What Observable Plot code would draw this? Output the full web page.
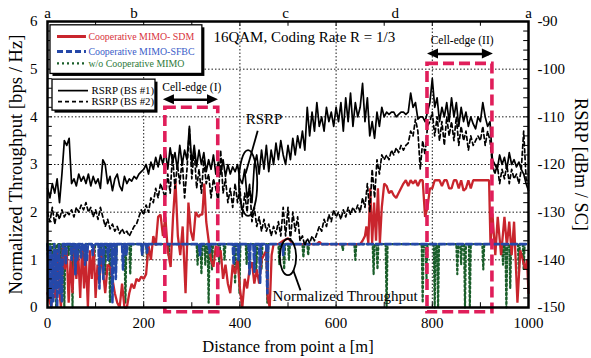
<!DOCTYPE html>
<html><head><meta charset="utf-8">
<script src="https://cdn.jsdelivr.net/npm/d3@7"></script>
<script src="https://cdn.jsdelivr.net/npm/@observablehq/plot@0.6"></script>
<style>body{margin:0;background:#fff}</style>
</head><body><div id="chart"></div>
<script>
// ---- data ----
const rsrpDist = [0,5,10,15,20,25,30,35,40,45,50,55,60,65,70,75,80,85,90,95,100,105,110,115,120,125,130,135,140,145,150,155,160,165,170,175,180,185,190,195,200,
205,210,215,220,225,230,235,240,245,250,255,260,265,270,275,280,285,290,295,300,305,310,315,320,325,330,335,340,345,350,355,360,365,370,375,380,385,390,395,400,
405,410,415,420,425,430,435,440,445,450,455,460,465,470,475,480,485,490,495,500,505,510,515,520,525,530,535,540,545,550,555,560,565,570,575,580,585,590,595,600,
605,610,615,620,625,630,635,640,645,650,655,660,665,670,675,680,685,690,695,700,705,710,715,720,725,730,735,740,745,750,755,760,765,770,775,780,785,790,795,800,
805,810,815,820,825,830,835,840,845,850,855,860,865,870,875,880,885,890,895,900,905,910,915,920,925,930,935,940,945,950,955,960,965,970,975,980,985,990,995,1000];
const rsrpBS1 = [-125,-127,-124,-126,-123,-128,-122,-115,-116,-114.5,-124,-123,-124.5,-122,-123.5,-122.5,-124,-122,-124.5,-122.5,-124,-123,-125,-119,-120,-124,-122.5,-125.5,-123,-122,-124.5,-125.5,-122.5,-124,-123,-123.5,-122.5,-123,-122,-121.5,-121,
-120,-122,-119.5,-121,-118.5,-120.5,-118,-120,-117,-121,-116.5,-119.5,-117.5,-121,-116,-120,-117,-119,-112,-120,-116,-120.5,-117,-120,-117.5,-121.5,-119,-121,-118,-122,-119.5,-122,-119,-122.5,-120,-122,-120.5,-121.5,-120,-123,
-124,-121,-127,-125,-128,-120,-118,-122,-117,-121,-116,-121.5,-117,-120,-115.5,-119,-115,-118,-120,-116,-119,-114.5,-118,-114,-116.5,-113,-117,-108,-114,-109,-113,-107,-112,-110,-113,-108,-111,-109,-112,-108,
-111,-107,-113,-106,-111,-105,-112,-107,-110,-108,-103,-111,-106,-114,-111,-114.5,-109,-112,-108,-110,-109,-109.5,-109,-109,-110,-109.5,-109,-109,-109.5,-109,-105,-108,-107,-110.5,-110,-110,-111,-109,-107,-102,
-108,-106,-111,-108,-110,-107,-111,-106,-110,-107,-112,-108,-111,-109,-112,-110,-111.5,-112.5,-110,-111,-107,-110,-112,-111,-119,-120,-121,-118,-120,-118.5,-121,-117.5,-120,-119,-120.5,-119.5,-121,-122,-124,-125.5];
const rsrpBS2 = [-130,-132,-129,-132.5,-130,-131.5,-129.5,-131,-130,-130.5,-129.5,-131,-129,-130,-128.5,-129.5,-128,-130,-129,-131,-129.5,-131.5,-129,-131,-133,-131.5,-133.5,-132.5,-134,-133,-134.5,-133.5,-134.5,-134,-135,-134,-133,-132.5,-131,-129.5,-130.5,
-128.5,-130,-127,-128,-125,-127,-124,-125.5,-127,-122,-126,-118,-125,-120,-124,-119,-127,-121,-112.5,-123,-117,-125,-121,-126,-119,-124,-122,-127,-123,-125,-128,-117,-126,-123,-128,-125,-129,-124,-128,-125,
-131,-126,-130,-124,-132,-129,-133,-131,-134,-131.5,-134,-132.5,-135,-133,-134.5,-132,-135,-129,-135,-129,-136,-130,-134,-131,-136,-135,-137,-135.5,-136.5,-135,-136,-134.5,-133,-134,-131.5,-133,-130.5,-132,-129.5,-131,
-130,-131.5,-129.5,-131,-129,-130.5,-129,-130,-128.5,-130,-127,-129,-124,-130,-121,-127,-119,-122,-118,-119,-118,-119,-117,-118,-116.5,-117.5,-116,-117,-116,-115.5,-113,-114,-110.5,-113,-121,-115,-118,-112,-111,-109,
-114,-110,-115,-111,-116,-110,-114,-111,-115,-110,-116,-112,-115,-113,-117,-114,-116,-115,-114,-115,-112,-116,-113,-115,-120,-122,-120,-124,-121,-123,-120,-124,-121,-123,-122,-124,-121,-113,-123,-124];
// [distance m, throughput bps/Hz]
const sdm = [[0,0.3],[5,0.1],[8,0],[12,0.9],[16,0.2],[20,1.2],[25,0.3],[28,0],[32,1.3],[36,0.8],[40,1.2],[44,0.1],[48,1.0],[52,0.3],[56,1.25],[60,0.6],[64,1.1],[68,0.2],[72,1.3],[76,0.4],[80,1.0],[84,0],[88,1.2],[92,0.6],[96,1.3],[100,0.2],[104,0.9],[108,0.5],[112,1.2],[116,0.7],[120,0.3],[125,0.9],[130,0.85],[135,0.6],[140,0.3],[145,0.1],[150,0],[155,0.5],[160,0],[165,0],[170,0.3],[175,0.5],[180,0.4],[185,0.6],[190,0.55],[195,0.65],[200,0.6],[205,0.7],[210,1.3],[215,1.0],[220,1.5],[225,1.3],[230,1.9],[235,1.95],[240,1.5],[245,1.9],[250,1.2],[256,0.85],[261,1.9],[266,2.66],[271,1.5],[276,1.1],[281,1.7],[287,0.3],[293,2.2],[298,1.6],[303,1.4],[308,2.0],[314,1.9],[318,1.95],[322,1.95],[326,2.6],[330,1.8],[335,1.4],[340,1.0],[345,0.85],[350,1.3],[355,1.1],[360,1.2],[365,0.6],[370,0.9],[375,0.5],[380,0.3],[385,0.9],[390,0.7],[395,1.0],[400,0.4],[405,0],[410,0.6],[415,0.4],[420,0.8],[425,0.95],[430,0.5],[435,0.8],[440,0.5],[445,1.0],[450,1.1],[455,1.2],[458,0.2],[462,0],[466,1.1],[470,1.33],[480,1.33],[490,1.4],[500,1.45],[505,1.4],[510,1.33],[560,1.33],[565,1.38],[570,1.33],[650,1.33],[655,1.4],[660,1.5],[663,1.7],[667,1.35],[671,2.5],[675,1.35],[679,2.2],[683,1.4],[687,2.5],[691,1.35],[695,2.1],[700,2.6],[705,2.55],[710,2.4],[715,2.45],[720,2.35],[725,2.3],[730,2.4],[735,2.5],[740,2.6],[745,2.67],[750,2.55],[755,2.67],[760,2.6],[765,2.67],[770,2.55],[775,2.67],[780,2.67],[785,1.9],[790,2.1],[795,2.5],[800,2.5],[805,2.67],[810,2.67],[815,2.67],[820,2.55],[825,2.67],[830,2.67],[835,2.5],[840,2.5],[845,2.67],[850,2.67],[855,2.5],[860,2.67],[865,2.45],[870,2.5],[875,2.67],[880,2.5],[885,2.67],[890,2.67],[900,2.67],[910,2.67],[918,2.67],[921,1.33],[925,1.97],[931,1.1],[936,1.9],[943,1.1],[950,1.9],[955,1.3],[960,1.8],[965,1.1],[970,1.8],[977,0.1],[983,1.2],[988,1.0],[993,0.8],[997,1.0],[1000,0.3]];
const sfbc = [[0,1.33],[2,0.9],[4,0.2],[6,1.3],[8,0],[10,1.1],[12,0.1],[14,1.33],[16,0.4],[18,1.2],[20,0],[22,0.8],[24,1.33],[26,0.3],[28,1.0],[30,0.1],[32,1.33],[36,1.33],[38,0.9],[40,1.33],[48,1.33],[50,1.0],[52,1.33],[56,1.33],[58,0.7],[60,1.33],[62,1.0],[64,1.33],[68,1.33],[70,1.05],[72,1.33],[76,1.33],[78,0.9],[80,1.33],[82,1.0],[84,1.33],[92,1.33],[94,1.1],[96,1.33],[106,1.33],[108,0.4],[110,1.33],[114,1.33],[116,0.6],[118,1.33],[124,1.33],[126,1.0],[128,1.33],[133,1.33],[135,0.1],[137,1.33],[140,1.33],[142,0.6],[144,1.33],[155,1.33],[157,0.8],[159,1.33],[162,1.33],[164,1.1],[166,1.33],[195,1.33],[197,1.1],[199,1.33],[205,1.33],[207,1.15],[209,1.33],[315,1.33],[317,1.1],[319,1.33],[335,1.33],[337,1.15],[339,1.33],[385,1.33],[387,0.9],[389,1.33],[395,1.33],[397,1.0],[399,1.33],[418,1.33],[420,0.7],[422,1.33],[428,1.33],[430,0.75],[432,1.33],[440,1.33],[442,0.5],[444,1.33],[455,1.33],[457,0.3],[459,1.33],[488,1.33],[490,1.1],[492,1.33],[1000,1.33]];
const woCoop = [[0,1.33],[2,0.9],[4,1.33],[7,1.33],[9,0.5],[11,1.33],[16,1.33],[18,0],[20,1.33],[26,1.33],[28,0.9],[30,1.33],[33,1.33],[35,0],[37,1.33],[42,1.33],[44,1.1],[46,1.33],[50,1.33],[52,0],[54,1.33],[62,1.33],[64,1.0],[66,1.33],[72,1.33],[74,0.9],[76,1.33],[95,1.33],[97,0.9],[99,1.33],[108,1.33],[110,0.85],[112,1.33],[118,1.33],[120,0.7],[122,1.33],[128,1.33],[130,0.1],[132,1.33],[140,1.33],[142,0.8],[144,1.33],[160,1.33],[162,0.1],[164,1.33],[170,1.33],[172,0.7],[174,1.33],[195,1.33],[197,1.1],[199,1.33],[205,1.33],[207,1.0],[209,1.33],[250,1.33],[252,1.1],[254,1.33],[310,1.33],[312,0.9],[314,1.33],[318,1.33],[320,0.7],[322,1.33],[326,1.33],[328,0.9],[330,1.33],[333,1.33],[335,0.1],[337,1.33],[340,1.33],[342,0.8],[344,1.33],[355,1.33],[357,0.9],[359,1.33],[366,1.33],[368,1.0],[370,1.33],[388,1.33],[390,0.5],[392,1.33],[397,1.33],[399,0.3],[401,1.33],[412,1.33],[414,0.9],[416,1.33],[432,1.33],[434,0.7],[436,1.33],[443,1.33],[445,0.8],[447,1.33],[455,1.33],[457,0.1],[459,1.33],[480,1.33],[482,0.9],[484,1.33],[490,1.33],[492,0.8],[494,1.33],[500,1.33],[502,1.0],[504,1.33],[530,1.33],[532,1.05],[534,1.33],[540,1.33],[542,1.1],[544,1.33],[612,1.33],[614,1.2],[616,1.33],[638,1.33],[640,1.0],[642,1.33],[676,1.33],[678,0.7],[680,1.33],[684,1.33],[686,0.8],[688,1.33],[703,1.33],[705,0],[707,1.33],[778,1.33],[780,0.1],[782,1.33],[786,1.33],[788,0.6],[790,1.33],[803,1.33],[805,0],[807,1.33],[810,1.33],[812,0],[814,1.33],[850,1.33],[852,0.7],[854,1.33],[858,1.33],[860,0.9],[862,1.33],[866,1.33],[868,0],[870,1.33],[876,1.33],[878,0],[880,1.33],[904,1.33],[906,0.8],[908,1.33],[945,1.33],[947,0.9],[949,1.33],[952,1.33],[954,0],[956,1.33],[960,1.33],[962,0.4],[964,1.33],[978,1.33],[980,0.7],[982,1.33],[988,1.33],[990,0.8],[992,1.33],[1000,1.33]];

const xTicks = [0,200,400,600,800,1000];
const yTicks = [0,1,2,3,4,5,6];
const rsrpTicks = [-150,-140,-130,-120,-110,-100,-90];
const pointDist = [0,180,495,723,1000];
const pointLabels = ["a","b","c","d","a"];
const seriesNames = ["Cooperative MIMO- SDM","Cooperative MIMO-SFBC","w/o Cooperative MIMO"];
const rsrpNames = ["RSRP (BS #1)","RSRP (BS #2)"];

// ---- helpers ----
const toY = d => (d + 150) / 10;           // RSRP dBm -> left-axis units
const bs1 = rsrpDist.map((x, i) => ({x, y: toY(rsrpBS1[i])}));
const bs2 = rsrpDist.map((x, i) => ({x, y: toY(rsrpBS2[i])}));
const F = "Liberation Serif, Times New Roman, serif";
const RED = "#c9252d", BLUE = "#2548a8", GREEN = "#1a5e2a", PINK = "#e01e5a";
const minorX = d3.range(100, 1000, 100);
const minorY = d3.range(0.2, 6, 0.2);

function shapes(index, scales) {
  const {x, y} = scales;
  const g = d3.create("svg:g");
  for (const [x1, x2, y1, y2] of [[399, 437, 1.91, 3.29], [484, 518, 0.67, 1.43]]) {
    g.append("ellipse")
      .attr("cx", (x(x1) + x(x2)) / 2).attr("cy", (y(y1) + y(y2)) / 2)
      .attr("rx", Math.abs(x(x2) - x(x1)) / 2).attr("ry", Math.abs(y(y2) - y(y1)) / 2)
      .attr("fill", "none").attr("stroke", "black").attr("stroke-width", 1.8);
  }
  for (const [xa, xb, yy] of [[241, 355.5, 4.36], [790, 927, 5.32]]) {
    const a = x(xa), b = x(xb), c = y(yy);
    g.append("path").attr("d", `M${a},${c}L${a + 11},${c - 5}L${a + 11},${c + 5}Z`).attr("fill", "black");
    g.append("path").attr("d", `M${b},${c}L${b - 11},${c - 5}L${b - 11},${c + 5}Z`).attr("fill", "black");
  }
  return g.node();
}

const legendRows = [
  {name: seriesNames[0], color: RED, dash: null, w: 3, tc: "#d8323c", y: 5.685},
  {name: seriesNames[1], color: BLUE, dash: "6,3", w: 3, tc: "#3a5cc8", y: 5.37},
  {name: seriesNames[2], color: GREEN, dash: "2,3", w: 2.2, tc: "#2d7a3a", y: 5.12}
];
const legendRows2 = [
  {name: rsrpNames[0], dash: null, y: 4.55},
  {name: rsrpNames[1], dash: "4,3", y: 4.32}
];

const plot = Plot.plot({
  width: 591, height: 358,
  marginLeft: 47, marginRight: 63, marginTop: 21, marginBottom: 51,
  x: {domain: [0, 1000]},
  y: {domain: [0, 6]},
  style: {fontFamily: F, fontSize: "15px", background: "white", color: "black"},
  marks: [
    Plot.ruleX([200, 400, 600, 800], {stroke: "black", strokeWidth: 0.9, strokeDasharray: "1.5,2"}),
    Plot.ruleY([1, 2, 3, 4, 5], {stroke: "black", strokeWidth: 0.9, strokeDasharray: "1.5,2"}),
    Plot.line(woCoop, {x: d => d[0], y: d => d[1], stroke: GREEN, strokeWidth: 2.2, strokeDasharray: "2,2.5"}),
    Plot.line(sdm, {x: d => d[0], y: d => d[1], stroke: RED, strokeWidth: 2.3, strokeLinejoin: "miter"}),
    Plot.line(sfbc, {x: d => d[0], y: d => d[1], stroke: BLUE, strokeWidth: 2.6, strokeDasharray: "6,3"}),
    Plot.line(bs2, {x: "x", y: "y", stroke: "black", strokeWidth: 1.7, strokeDasharray: "4,3"}),
    Plot.line(bs1, {x: "x", y: "y", stroke: "black", strokeWidth: 1.7}),
    Plot.rect([[245, 355, -0.1, 4.19], [790, 925, -0.1, 5.11]], {x1: d => d[0], x2: d => d[1], y1: d => d[2], y2: d => d[3], fill: "none", stroke: PINK, strokeWidth: 3.6, strokeDasharray: "11,5"}),
    Plot.ruleX(minorX, {y1: 0, y2: 0.1, stroke: "black", strokeWidth: 1}),
    Plot.ruleX(minorX, {y1: 5.9, y2: 6, stroke: "black", strokeWidth: 1}),
    Plot.ruleY(minorY, {x1: 0, x2: 10, stroke: "black", strokeWidth: 1}),
    Plot.ruleY(minorY, {x1: 990, x2: 1000, stroke: "black", strokeWidth: 1}),
    Plot.frame({stroke: "black", strokeWidth: 2.5}),
    Plot.axisX(xTicks, {anchor: "bottom", tickSize: 0, tickPadding: 10, label: null, fontSize: 15, tickFormat: d => String(d)}),
    Plot.axisY(yTicks, {anchor: "left", tickSize: 0, tickPadding: 10, label: null, fontSize: 15, tickFormat: d => String(d)}),
    Plot.axisY(rsrpTicks.map(toY), {anchor: "right", tickSize: 0, tickPadding: 9, label: null, fontSize: 15, tickFormat: d => String(Math.round(d * 10 - 150))}),
    Plot.axisX(pointDist, {anchor: "top", tickSize: 0, tickPadding: 4, label: null, fontSize: 15, tickFormat: d => pointLabels[pointDist.indexOf(d)]}),
    Plot.text(["Normalized Throughput [bps / Hz]"], {frameAnchor: "left", textAnchor: "middle", lineAnchor: "middle", rotate: -90, dx: -31, fontSize: 18.7, fontFamily: F}),
    Plot.text(["RSRP [dBm / SC]"], {frameAnchor: "right", textAnchor: "middle", lineAnchor: "middle", rotate: 90, dx: 52, fontSize: 18.3, fontFamily: F}),
    Plot.text(["Distance from point a [m]"], {frameAnchor: "bottom", lineAnchor: "middle", dy: 39, fontSize: 16.5, fontFamily: F}),
    Plot.rect([0], {x1: 6.2, x2: 322, y1: 4.9, y2: 5.92, fill: "black", dx: 2.5, dy: 2.5}),
    Plot.rect([0], {x1: 6.2, x2: 322, y1: 4.9, y2: 5.92, fill: "white", stroke: "black", strokeWidth: 1.3}),
    ...legendRows.map(r => Plot.ruleY([r.y], {x1: 20.8, x2: 81, stroke: r.color, strokeWidth: r.w, strokeDasharray: r.dash})),
    ...legendRows.map(r => Plot.text([r.name], {x: 85, y: r.y, textAnchor: "start", fill: r.tc, fontSize: 9.9, fontFamily: F})),
    Plot.rect([0], {x1: 10.4, x2: 224.5, y1: 4.13, y2: 4.78, fill: "black", dx: 2.5, dy: 2.5}),
    Plot.rect([0], {x1: 10.4, x2: 224.5, y1: 4.13, y2: 4.78, fill: "white", stroke: "black", strokeWidth: 1.3}),
    ...legendRows2.map(r => Plot.ruleY([r.y], {x1: 22.9, x2: 85.2, stroke: "black", strokeWidth: 1.7, strokeDasharray: r.dash})),
    ...legendRows2.map(r => Plot.text([r.name], {x: 91.5, y: r.y, textAnchor: "start", fill: "black", fontSize: 10.8, fontFamily: F})),
    Plot.text(["16QAM, Coding Rate R = 1/3"], {x: 345, y: 5.68, textAnchor: "start", fontSize: 15, fontFamily: F}),
    Plot.text(["Cell-edge (I)"], {x: 300, y: 4.61, fontSize: 11.5, fontFamily: F}),
    Plot.text(["Cell-edge (II)"], {x: 862, y: 5.6, fontSize: 11.5, fontFamily: F}),
    Plot.link([[250, 346, 4.36], [799, 918, 5.32]], {x1: d => d[0], x2: d => d[1], y1: d => d[2], y2: d => d[2], stroke: "black", strokeWidth: 2.5}),
    Plot.text(["RSRP"], {x: 412, y: 3.96, textAnchor: "start", fontSize: 15, fontFamily: F}),
    Plot.text(["Normalized Throughput"], {x: 468, y: 0.23, textAnchor: "start", fontSize: 15, fontFamily: F}),
    Plot.link([[437, 3.71, 412, 2.81], [511, 0.78, 526, 0.36]], {x1: d => d[0], y1: d => d[1], x2: d => d[2], y2: d => d[3], stroke: "black", strokeWidth: 1.8}),
    shapes
  ]
});
document.getElementById("chart").appendChild(plot);
</script>
</body></html>
